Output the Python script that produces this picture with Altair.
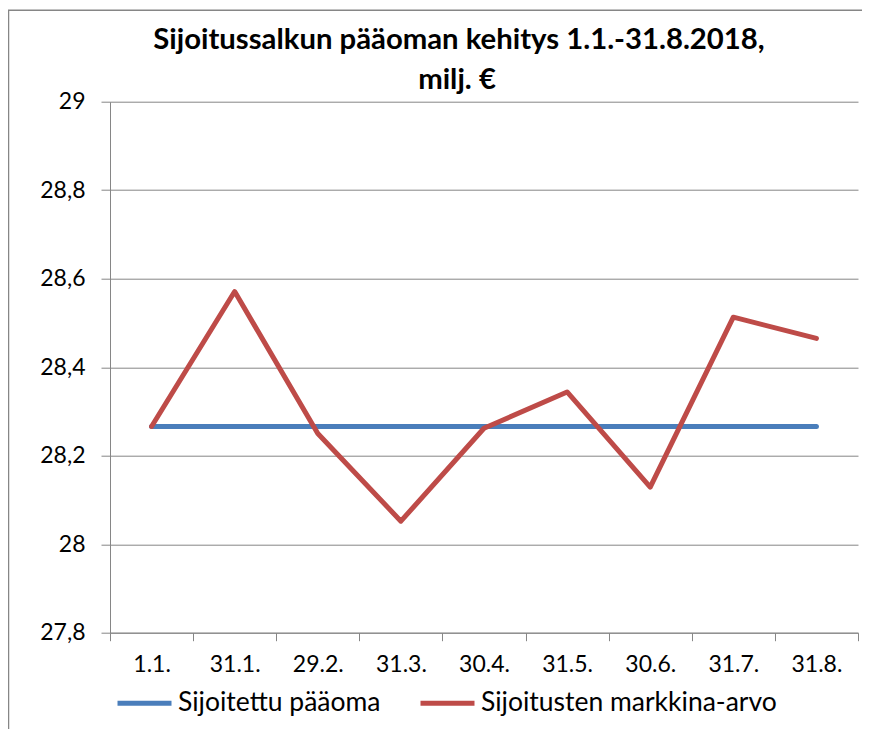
import altair as alt
import pandas as pd

categories = ["1.1.", "31.1.", "29.2.", "31.3.", "30.4.", "31.5.", "30.6.", "31.7.", "31.8."]
invested = [28.266, 28.266, 28.266, 28.266, 28.266, 28.266, 28.266, 28.266, 28.266]
market = [28.266, 28.571, 28.250, 28.052, 28.262, 28.344, 28.129, 28.513, 28.465]
series_names = ["Sijoitettu pääoma", "Sijoitusten markkina-arvo"]
series_colors = ["#4A7EBB", "#BE4B48"]
y_ticks = [27.8, 28.0, 28.2, 28.4, 28.6, 28.8, 29.0]
title_lines = ["Sijoitussalkun pääoman kehitys 1.1.-31.8.2018,", "milj. €"]

df_inv = pd.DataFrame({"cat": categories, "value": invested, "series": series_names[0]})
df_mkt = pd.DataFrame({"cat": categories, "value": market, "series": series_names[1]})

FONT = "Lato"
GRAY = "#868686"
FS = 23

x_enc = alt.X(
    "cat:N",
    sort=categories,
    scale=alt.Scale(type="band", paddingInner=0, paddingOuter=0),
    bandPosition=0.5,
    axis=alt.Axis(
        title=None,
        tickBand="extent",
        tickSize=8,
        labelPadding=13,
        labelAngle=0,
        domainColor=GRAY,
        tickColor=GRAY,
        grid=False,
    ),
)
y_enc = alt.Y(
    "value:Q",
    scale=alt.Scale(domain=[27.8, 29.0], nice=False, zero=False),
    axis=alt.Axis(
        title=None,
        values=y_ticks,
        tickSize=9,
        labelPadding=16,
        labelExpr="replace(toString(round(datum.value*10)/10), '.', ',')",
        grid=True,
        gridColor=GRAY,
        domainColor=GRAY,
        tickColor=GRAY,
    ),
)
color_enc = alt.Color(
    "series:N",
    scale=alt.Scale(domain=series_names, range=series_colors),
    legend=alt.Legend(
        title=None,
        orient="none",
        direction="horizontal",
        legendX=5,
        legendY=572,
        symbolType="stroke",
        symbolSize=2916,
        symbolStrokeWidth=5,
        labelFont=FONT,
        labelFontSize=26.5,
        labelColor="black",
        labelOffset=4,
        labelLimit=500,
        columnPadding=29,
    ),
)

one = pd.DataFrame({"a": [0]})

frame = alt.Chart(one).mark_rect(
    fill=None, stroke=GRAY, strokeWidth=1.5
).encode(
    x=alt.value(-101.5), x2=alt.value(900), y=alt.value(-91.5), y2=alt.value(700)
)

title1 = alt.Chart(one).mark_text(
    text=title_lines[0], font=FONT, fontSize=29.3, fontWeight="bold", color="black",
    align="center", baseline="alphabetic"
).encode(x=alt.value(349), y=alt.value(-53))
title2 = alt.Chart(one).mark_text(
    text=title_lines[1], font=FONT, fontSize=29.3, fontWeight="bold", color="black",
    align="center", baseline="alphabetic"
).encode(x=alt.value(347), y=alt.value(-12.5))

line_inv = alt.Chart(df_inv).mark_line(strokeWidth=5, strokeCap="round", strokeJoin="round").encode(
    x=x_enc, y=y_enc, color=color_enc
)
line_mkt = alt.Chart(df_mkt).mark_line(strokeWidth=5, strokeCap="round", strokeJoin="round").encode(
    x=x_enc, y=y_enc, color=color_enc
)

chart = alt.layer(frame, title1, title2, line_inv, line_mkt).properties(
    width=748,
    height=531,
    autosize=alt.AutoSizeParams(type="none"),
    padding={"left": 102, "top": 93.7, "right": 4, "bottom": 97},
).configure_view(stroke=None).configure_axis(
    labelFont=FONT, labelFontSize=FS, labelColor="black"
)

chart.save("out.html", embed_options={"renderer": "svg", "actions": False})
